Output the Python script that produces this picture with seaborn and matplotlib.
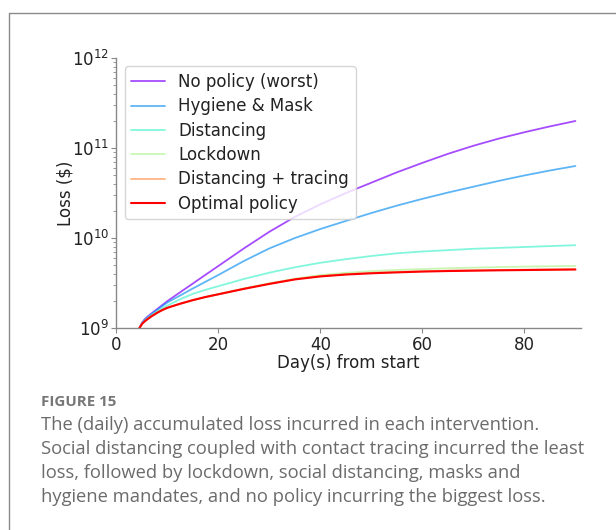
import matplotlib
matplotlib.use("Agg")
import matplotlib.pyplot as plt
from matplotlib.lines import Line2D
import numpy as np
import pandas as pd
import seaborn as sns

# ---- data: log10 of accumulated loss ($) ----
days = [4.5, 5, 5.5, 6, 7, 8, 9, 10, 12.5, 15, 17.5, 20, 25, 30, 35, 40,
        45, 50, 55, 60, 65, 70, 75, 80, 85, 90]
no_policy = [9.0, 9.058, 9.095, 9.122, 9.168, 9.212, 9.256, 9.30, 9.398, 9.495, 9.593, 9.69,
             9.885, 10.07, 10.235, 10.375, 10.50, 10.615, 10.73, 10.835, 10.935, 11.025,
             11.105, 11.175, 11.24, 11.30]
hygiene_mask = [9.0, 9.052, 9.088, 9.114, 9.16, 9.202, 9.244, 9.284, 9.362, 9.44, 9.515, 9.59,
                9.745, 9.885, 10.0, 10.10, 10.19, 10.278, 10.36, 10.435, 10.505, 10.57,
                10.635, 10.695, 10.75, 10.80]
distancing = [9.0, 9.048, 9.08, 9.106, 9.15, 9.185, 9.22, 9.25, 9.32, 9.38, 9.425, 9.465,
              9.545, 9.615, 9.675, 9.725, 9.765, 9.80, 9.83, 9.85, 9.865, 9.88, 9.89,
              9.90, 9.91, 9.92]
lockdown = [9.0, 9.045, 9.072, 9.095, 9.135, 9.17, 9.20, 9.225, 9.27, 9.31, 9.345, 9.375,
            9.44, 9.497, 9.548, 9.588, 9.613, 9.632, 9.645, 9.655, 9.664, 9.671, 9.677,
            9.682, 9.686, 9.69]
dist_tracing = [9.0, 9.045, 9.072, 9.095, 9.135, 9.17, 9.20, 9.225, 9.27, 9.31, 9.345, 9.375,
                9.437, 9.493, 9.543, 9.578, 9.599, 9.613, 9.623, 9.631, 9.637, 9.641,
                9.645, 9.648, 9.651, 9.654]
optimal = [9.0, 9.045, 9.072, 9.095, 9.135, 9.17, 9.20, 9.225, 9.27, 9.31, 9.345, 9.375,
           9.435, 9.49, 9.54, 9.573, 9.594, 9.608, 9.618, 9.627, 9.633, 9.637, 9.641,
           9.644, 9.647, 9.65]

labels = ["No policy (worst)", "Hygiene & Mask", "Distancing", "Lockdown",
          "Distancing + tracing", "Optimal policy"]
series = [no_policy, hygiene_mask, distancing, lockdown, dist_tracing, optimal]

caption_title = "FIGURE 15"
caption_lines = [
    "The (daily) accumulated loss incurred in each intervention.",
    "Social distancing coupled with contact tracing incurred the least",
    "loss, followed by lockdown, social distancing, masks and",
    "hygiene mandates, and no policy incurring the biggest loss.",
]

sns.set_style("ticks")
plt.rcParams['font.family'] = ['DejaVu Sans']

W, H = 616, 530
FS = 12
fig = plt.figure(figsize=(W / 100, H / 100), dpi=100)
ax = fig.add_axes([116.5 / W, 1 - 328 / H, 464 / W, 270 / H])

cmap = plt.get_cmap("rainbow")
cols = [cmap(v) for v in np.linspace(0, 1, 6)]
alphas = [0.7, 0.7, 0.7, 0.7, 0.7, 1.0]
widths = [1.3, 1.3, 1.3, 1.3, 1.3, 1.5]

for lab, vals, c, a, lw in zip(labels, series, cols, alphas, widths):
    df = pd.DataFrame({"day": days, "loss": 10.0 ** np.array(vals)})
    sns.lineplot(data=df, x="day", y="loss", color=c, alpha=a, lw=lw,
                 ax=ax, label=lab, estimator=None, sort=False)

ax.set_yscale("log")
ax.set_ylim(1e9, 1e12)
ax.set_xlim(0, 91)
ax.set_xticks([0, 20, 40, 60, 80])

for s in ["top", "right"]:
    ax.spines[s].set_visible(False)
for s in ["left", "bottom"]:
    ax.spines[s].set_color("#888888")
    ax.spines[s].set_linewidth(1.0)
ax.tick_params(axis="both", which="both", colors="#888888", labelcolor="#222222",
               labelsize=FS)
ax.tick_params(axis="both", which="major", length=3.5, pad=2)
ax.tick_params(axis="y", which="minor", length=2)

ax.set_xlabel("Day(s) from start", fontsize=FS, color="#222222", labelpad=0)
ax.set_ylabel(r"Loss (\$)", fontsize=FS, color="#222222", labelpad=-2)

leg = ax.legend(loc="upper left", fontsize=FS, frameon=True, handlelength=2.0,
                labelspacing=0.38)
leg.get_frame().set_edgecolor("#cccccc")
for t in leg.get_texts():
    t.set_color("#222222")

# border frame of the figure panel
fig.add_artist(Line2D([8.5 / W, 8.5 / W], [0, 1 - 12.5 / H], color="#8a8a8a",
                      lw=1.0, transform=fig.transFigure))
fig.add_artist(Line2D([8.5 / W, 1], [1 - 12.5 / H, 1 - 12.5 / H], color="#8a8a8a",
                      lw=1.0, transform=fig.transFigure))

fig.text(41 / W, 1 - 402 / H, caption_title, fontsize=10.9, color="#777777",
         fontweight="bold", family=["Open Sans", "DejaVu Sans"], va="center")
for i, line in enumerate(caption_lines):
    fig.text(41 / W, 1 - (425 + 24 * i) / H, line, fontsize=13.2, color="#6b6b6b",
             family=["Open Sans", "DejaVu Sans"], va="center")

fig.savefig("out.png", dpi=100)
